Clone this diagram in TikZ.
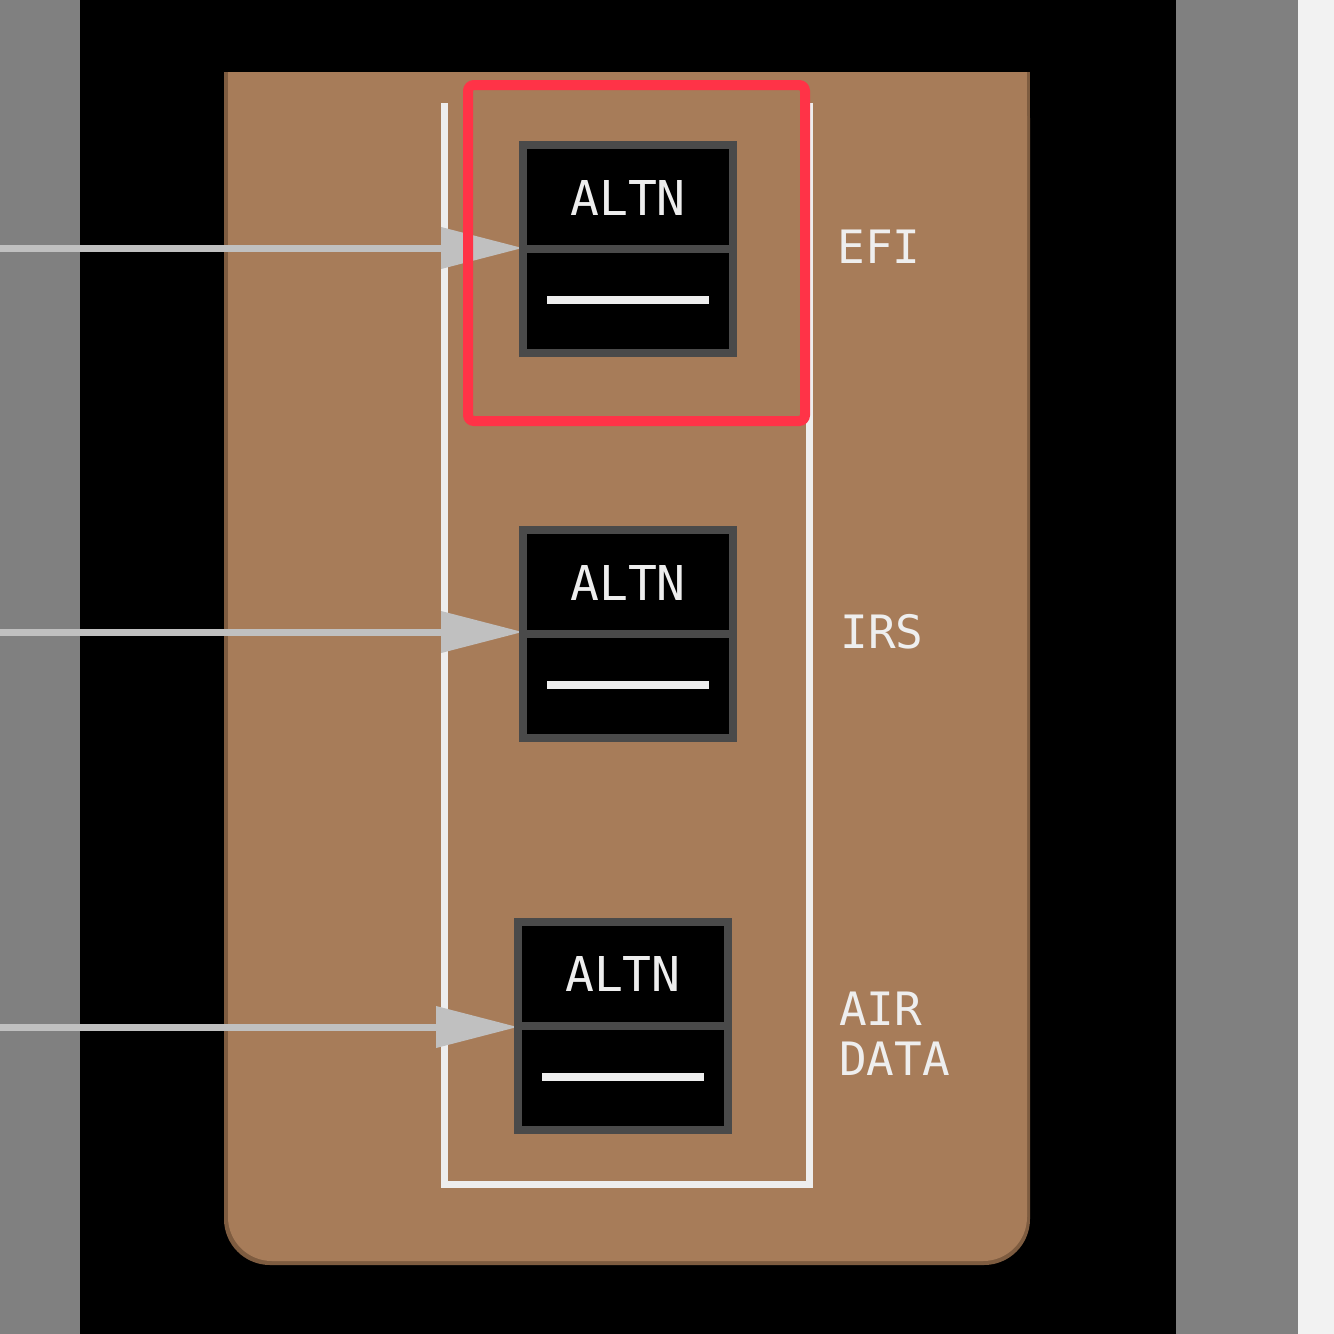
\documentclass[tikz,border=0pt]{standalone}
\usepackage{fontspec}
\newfontfamily\panelmono{DejaVu Sans Mono}
\usetikzlibrary{arrows.meta}
\definecolor{stripgray}{HTML}{808080}
\definecolor{lightbg}{HTML}{F2F2F2}
\definecolor{panelbrown}{HTML}{A77C59}
\definecolor{paneledge}{HTML}{7E5C40}
\definecolor{bordergray}{HTML}{4A4A4A}
\definecolor{linewhite}{HTML}{EEEEEE}
\definecolor{arrowgray}{HTML}{C0C0C0}
\definecolor{hlred}{HTML}{FF3347}
\tikzset{
  switchbox/.style={draw=bordergray, fill=black, line width=4pt, minimum width=105pt, minimum height=104pt, inner sep=0pt, outer sep=0pt},
  divider/.style={draw=bordergray, line width=4pt},
  legend/.style={text=linewhite, font=\panelmono\fontsize{23}{26}\selectfont},
  altn/.style={text=linewhite, font=\panelmono\fontsize{24}{26}\selectfont},
  bar/.style={draw=linewhite, line width=4pt},
  frameline/.style={draw=linewhite, line width=3.5pt},
  feed/.style={draw=arrowgray, line width=3.5pt, -{Triangle[length=41pt, width=20pt]}, arrowgray},
  highlight/.style={draw=hlred, line width=5pt, rounded corners=3pt}
}
\begin{document}
\begin{tikzpicture}[x=0.5pt, y=-0.5pt]
\useasboundingbox (0,0) rectangle (1334,1334);
% background strips
\fill[stripgray] (0,0) rectangle (80,1334);
\fill[black] (80,0) rectangle (1176,1334);
\fill[stripgray] (1176,0) rectangle (1298,1334);
\fill[lightbg] (1298,0) rectangle (1334,1334);
% panel
\fill[paneledge, rounded corners=23pt] (224,72) rectangle (1030,1265);
\fill[paneledge] (224,72) rectangle (1030,300);
\fill[panelbrown, rounded corners=22pt] (228,72) rectangle (1027,1261);
\fill[panelbrown] (228,72) rectangle (1027,300);
% white frame
\draw[frameline] (444,103) -- (444,1184) -- (809,1184) -- (809,103);
% switches
\node[switchbox] (s1) at (628,249) {};
\node[switchbox] (s2) at (628,633.5) {};
\node[switchbox] (s3) at (623,1025.5) {};
% feeding arrows
\coordinate (f1) at (0,248);
\coordinate (f2) at (0,632);
\coordinate (f3) at (0,1027);
\draw[feed] (f1) -- (s1.west |- f1);
\draw[feed] (f2) -- (s2.west |- f2);
\draw[feed] (f3) -- (s3.west |- f3);
% redraw switch borders over arrow tips
\foreach \s in {s1,s2,s3}{
  \draw[bordergray, line width=4pt] (\s.south west) rectangle (\s.north east);
  \draw[divider] (\s.west) -- (\s.east);
  \draw[bar] ([xshift=-40.5pt, yshift=-25.5pt]\s.center) -- ([xshift=40.5pt, yshift=-25.5pt]\s.center);
}
\node[altn] (t1) at ([yshift=25.5pt]s1.center) {ALTN};
\node[altn] (t2) at ([yshift=25.5pt]s2.center) {ALTN};
\node[altn] (t3) at ([yshift=26pt]s3.center) {ALTN};
% labels
\node[legend] (efi) at (879,247) {EFI};
\node[legend] (irs) at (882,632) {IRS};
\node[legend, anchor=west, align=left] (air) at (832,1034) {AIR\\[-1pt]DATA};
% highlight
\draw[highlight] (468,85) rectangle (805,421);
\end{tikzpicture}
\end{document}
